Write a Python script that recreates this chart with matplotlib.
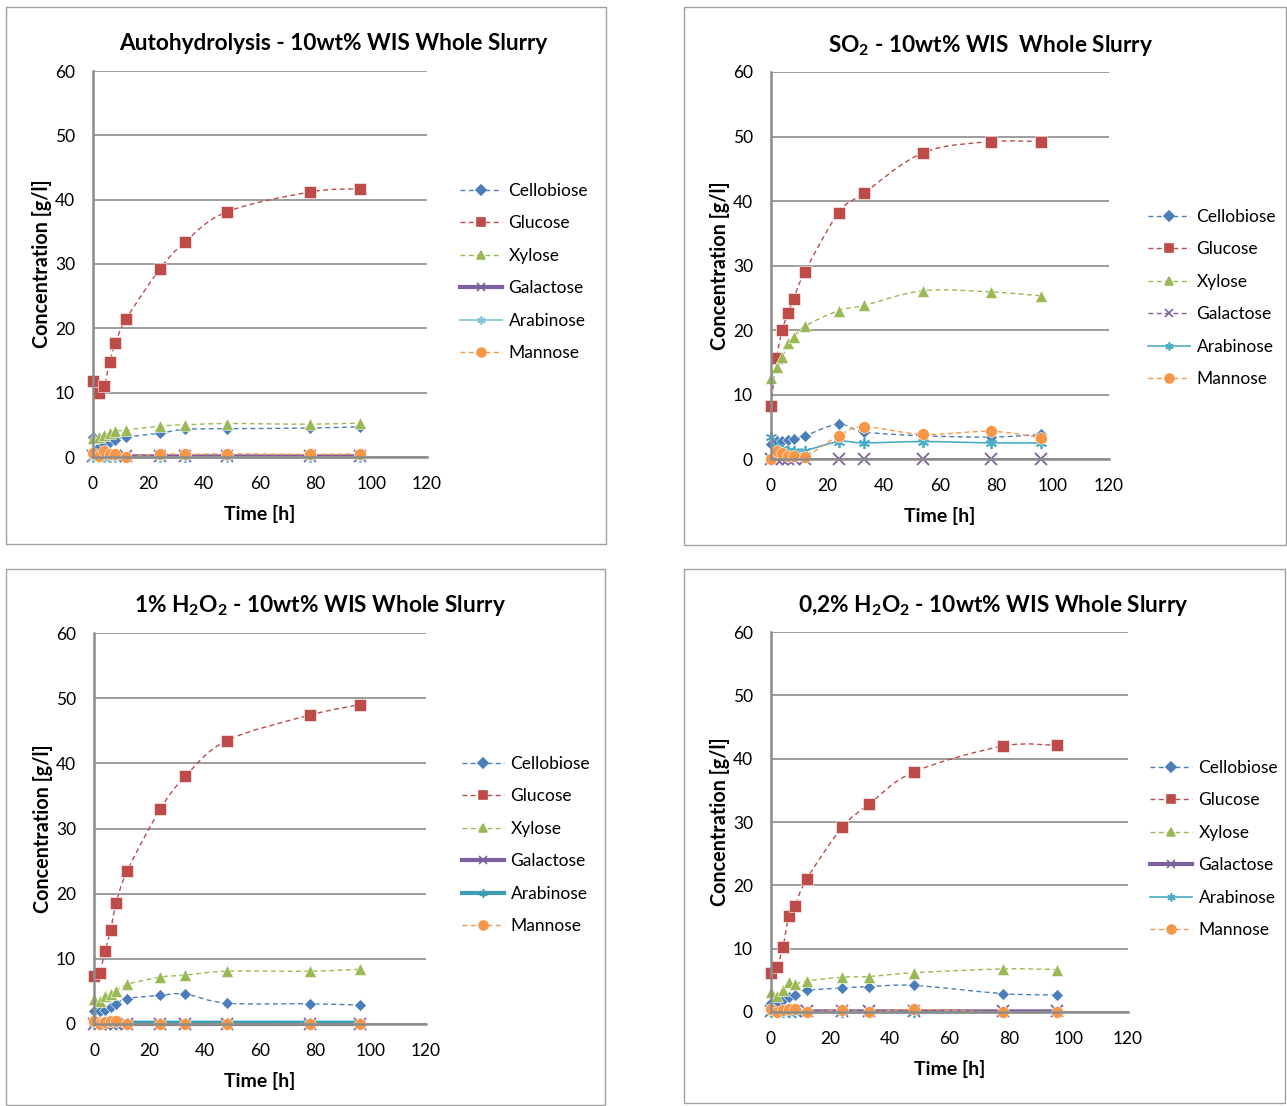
import numpy as np
import matplotlib
matplotlib.use('Agg')
import matplotlib.pyplot as plt
from matplotlib.path import Path
from matplotlib.patches import PathPatch, Rectangle
from matplotlib.lines import Line2D

plt.rcParams['font.family'] = ['Lato', 'DejaVu Sans']
plt.rcParams['mathtext.fontset'] = 'custom'
plt.rcParams['mathtext.rm'] = 'Lato:bold'
plt.rcParams['mathtext.bf'] = 'Lato:bold'

# sampling times [h]
t_std = [0, 2, 4, 6, 8, 12, 24, 33, 48, 78, 96]
t_so2 = [0, 2, 4, 6, 8, 12, 24, 33, 54, 78, 96]

sugars = ['Cellobiose', 'Glucose', 'Xylose', 'Galactose', 'Arabinose', 'Mannose']

# Autohydrolysis
auto_cello = [3.1, 1.5, 2.0, 2.4, 2.7, 3.1, 3.7, 4.3, 4.4, 4.5, 4.7]
auto_gluc = [11.8, 10.0, 11.0, 14.8, 17.7, 21.5, 29.2, 33.4, 38.1, 41.2, 41.7]
auto_xyl = [3.0, 3.1, 3.4, 3.8, 4.0, 4.2, 4.8, 5.0, 5.2, 5.1, 5.3]
auto_gal = [0.1, 0.1, 0.1, 0.1, 0.1, 0.1, 0.1, 0.1, 0.1, 0.1, 0.1]
auto_arab = [0.0, 0.0, 0.0, 0.0, 0.0, 0.0, 0.0, 0.0, 0.0, 0.0, 0.0]
auto_mann = [0.6, 0.1, 1.0, 0.5, 0.5, 0.0, 0.5, 0.4, 0.5, 0.4, 0.5]

# SO2
so2_cello = [2.4, 2.8, 2.8, 2.9, 3.1, 3.6, 5.4, 4.2, 3.6, 3.4, 3.8]
so2_gluc = [8.2, 15.7, 20.0, 22.6, 24.8, 29.0, 38.2, 41.2, 47.5, 49.2, 49.2]
so2_xyl = [12.5, 14.3, 15.8, 18.0, 18.9, 20.6, 23.0, 23.8, 26.1, 25.9, 25.3]
so2_gal = [0.0, 0.0, 0.0, 0.0, 0.0, 0.0, 0.0, 0.0, 0.0, 0.0, 0.0]
so2_arab = [3.4, 1.8, 1.6, 1.3, 1.3, 1.3, 2.7, 2.5, 2.7, 2.5, 2.5]
so2_mann = [0.0, 1.2, 0.9, 0.5, 0.4, 0.3, 3.6, 5.0, 3.8, 4.3, 3.3]

# 1% H2O2
h1_cello = [2.0, 2.0, 2.2, 2.6, 3.1, 3.9, 4.4, 4.6, 3.2, 3.1, 2.9]
h1_gluc = [7.3, 7.8, 11.2, 14.4, 18.5, 23.5, 33.0, 38.0, 43.5, 47.4, 49.0]
h1_xyl = [3.9, 3.6, 4.3, 4.6, 5.1, 6.1, 7.2, 7.5, 8.1, 8.1, 8.4]
h1_gal = [0.0, 0.0, 0.0, 0.0, 0.0, 0.0, 0.0, 0.0, 0.0, 0.0, 0.0]
h1_arab = [0.2, 0.2, 0.2, 0.2, 0.2, 0.2, 0.2, 0.2, 0.2, 0.2, 0.2]
h1_mann = [0.5, 0.0, 0.3, 0.5, 0.5, 0.0, 0.0, 0.0, 0.0, 0.0, 0.0]

# 0,2% H2O2
h02_cello = [1.5, 1.5, 1.9, 2.3, 2.7, 3.4, 3.8, 4.0, 4.2, 2.9, 2.7]
h02_gluc = [6.2, 7.1, 10.3, 15.1, 16.7, 21.0, 29.2, 32.8, 37.9, 42.0, 42.1]
h02_xyl = [3.1, 2.6, 3.5, 4.8, 4.4, 4.9, 5.5, 5.6, 6.2, 6.8, 6.7]
h02_gal = [0.1, 0.1, 0.1, 0.1, 0.1, 0.1, 0.1, 0.1, 0.1, 0.1, 0.1]
h02_arab = [0.0, 0.0, 0.0, 0.0, 0.0, 0.0, 0.0, 0.0, 0.0, 0.0, 0.0]
h02_mann = [0.5, 0.0, 0.3, 0.4, 0.4, 0.0, 0.3, 0.0, 0.4, 0.0, 0.0]

titles = ['Autohydrolysis - 10wt% WIS Whole Slurry',
          'SO$_2$ - 10wt% WIS  Whole Slurry',
          '1% H$_2$O$_2$ - 10wt% WIS Whole Slurry',
          '0,2% H$_2$O$_2$ - 10wt% WIS Whole Slurry']

colors = {'Cellobiose': '#4A7EBB', 'Glucose': '#BE4B48', 'Xylose': '#98B954',
          'Galactose': '#7D60A0', 'Arabinose': '#4BACC6', 'Mannose': '#F79646'}
markers = {'Cellobiose': 'D', 'Glucose': 's', 'Xylose': '^',
           'Galactose': 'x', 'Arabinose': (6, 2, 0), 'Mannose': 'o'}
msizes = {'Cellobiose': 6.5, 'Glucose': 8, 'Xylose': 8.5,
          'Galactose': 8, 'Arabinose': 8, 'Mannose': 8.5}

DASH = (0, (3.5, 2.5))
thin_dash = dict(ls=DASH, lw=1.0)
thick = dict(ls='-', lw=3.0)
thin = dict(ls='-', lw=1.2)

panels = [
    dict(t=t_std, data=[auto_cello, auto_gluc, auto_xyl, auto_gal, auto_arab, auto_mann],
         gal=thick, arab=thin, arab_col='#7FC4D6',
         ax=(93, 71, 427, 457), box=(6, 7, 606, 544),
         title=(333, 44), legend=(460, 272)),
    dict(t=t_so2, data=[so2_cello, so2_gluc, so2_xyl, so2_gal, so2_arab, so2_mann],
         gal=thin_dash, arab=thin, arab_col='#4BACC6',
         ax=(771, 72, 1109, 459), box=(684, 7, 1286, 545),
         title=(991, 45), legend=(1148, 298)),
    dict(t=t_std, data=[h1_cello, h1_gluc, h1_xyl, h1_gal, h1_arab, h1_mann],
         gal=thick, arab=thick, arab_col='#3E9DB5',
         ax=(94, 633, 426, 1024), box=(6, 569, 605, 1105),
         title=(320, 606), legend=(462, 845)),
    dict(t=t_std, data=[h02_cello, h02_gluc, h02_xyl, h02_gal, h02_arab, h02_mann],
         gal=thick, arab=thin, arab_col='#4BACC6',
         ax=(771, 632, 1128, 1012), box=(684, 569, 1285, 1103),
         title=(993, 605), legend=(1150, 849)),
]

W, H = 1287, 1106
GRID = '#8C8C8C'


def smooth_path(x, y):
    # cubic Bezier through the points (Excel style smoothed line)
    pts = np.column_stack([x, y]).astype(float)
    n = len(pts)
    verts = [pts[0]]
    codes = [Path.MOVETO]
    for i in range(n - 1):
        p0 = pts[i - 1] if i > 0 else pts[i]
        p1 = pts[i]
        p2 = pts[i + 1]
        p3 = pts[i + 2] if i + 2 < n else pts[i + 1]
        verts += [p1 + (p2 - p0) / 6, p2 - (p3 - p1) / 6, p2]
        codes += [Path.CURVE4] * 3
    return Path(verts, codes)


fig = plt.figure(figsize=(W / 100, H / 100), dpi=100)

for p, title in zip(panels, titles):
    bx0, by0, bx1, by1 = p['box']
    fig.patches.append(Rectangle((bx0 / W, 1 - by1 / H), (bx1 - bx0) / W, (by1 - by0) / H,
                                 transform=fig.transFigure, fill=False,
                                 edgecolor='#A0A0A0', lw=1.0))
    x0, y0, x1, y1 = p['ax']
    ax = fig.add_axes([x0 / W, 1 - y1 / H, (x1 - x0) / W, (y1 - y0) / H])
    ax.set_xlim(0, 120)
    ax.set_ylim(0, 60)
    ax.set_xticks(range(0, 121, 20))
    ax.set_yticks(range(0, 61, 10))
    ax.yaxis.grid(True, color=GRID, lw=1.2)
    ax.set_axisbelow(True)
    for s in ['top', 'right']:
        ax.spines[s].set_visible(False)
    for s in ['left', 'bottom']:
        ax.spines[s].set_color(GRID)
        ax.spines[s].set_linewidth(1.8)
    ax.tick_params(axis='both', length=0, labelsize=12.5)
    ax.tick_params(axis='y', pad=13)
    ax.tick_params(axis='x', pad=14)
    ax.set_xlabel('Time [h]', fontsize=14, fontweight='bold', labelpad=9)
    ax.set_ylabel('Concentration [g/l]', fontsize=14.2, fontweight='bold', labelpad=2)

    handles = []
    for name, vals in zip(sugars, p['data']):
        col = colors[name]
        if name == 'Galactose':
            st = p['gal']
        elif name == 'Arabinose':
            st = p['arab']
            col = p['arab_col']
        else:
            st = thin_dash
        ax.add_patch(PathPatch(smooth_path(p['t'], vals), facecolor='none',
                               edgecolor=col, linestyle=st['ls'], lw=st['lw'],
                               clip_on=False))
        mk = markers[name]
        line_mk = name in ('Galactose', 'Arabinose')
        ax.plot(p['t'], vals, ls='none', marker=mk, ms=msizes[name],
                color=col, mfc=col, mec=col if line_mk else 'white',
                mew=1.3 if line_mk else 0.4, clip_on=False)
        handles.append(Line2D([], [], color=col, ls=st['ls'], lw=st['lw'],
                              marker=mk, ms=msizes[name] * 0.75, mfc=col,
                              mec=col, mew=1.2))

    lx, ly = p['legend']
    fig.legend(handles, sugars, loc='center left',
               bbox_to_anchor=(lx / W, 1 - ly / H), frameon=False,
               fontsize=12.5, handlelength=2.4, handletextpad=0.4,
               labelspacing=0.95, borderpad=0, borderaxespad=0)

    tx, ty = p['title']
    fig.text(tx / W, 1 - ty / H, title, ha='center', va='center',
             fontsize=16.3, fontweight='bold')

fig.savefig('out.png', dpi=100)
